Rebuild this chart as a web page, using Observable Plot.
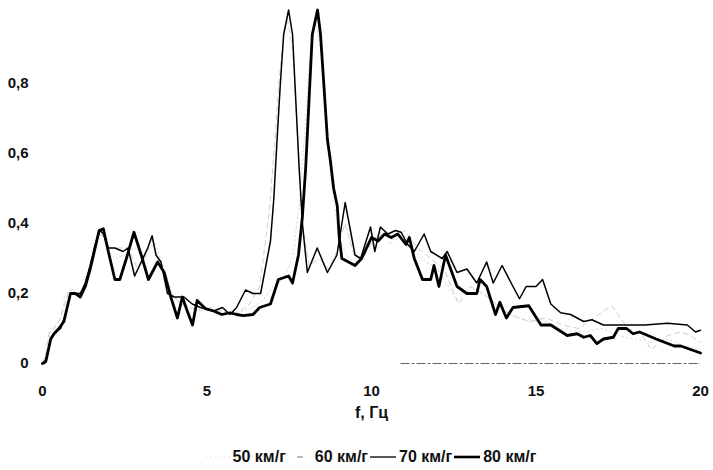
<!DOCTYPE html>
<html>
<head>
<meta charset="utf-8">
<script src="https://cdn.jsdelivr.net/npm/d3@7"></script>
<script src="https://cdn.jsdelivr.net/npm/@observablehq/plot@0.6"></script>
<style>
  html, body { margin: 0; padding: 0; background: #fff; }
  #chart { width: 713px; }
  .legend { width: 713px; box-sizing: border-box; padding-left: 29px; display: flex; justify-content: center; align-items: center;
    font-family: "Liberation Sans", Arial, sans-serif; font-weight: bold; font-size: 16px; color: #111; height: 30px; margin-top: 2px; }
  .legend .item { display: flex; align-items: center; margin: 0 1px; }
  .legend svg { margin-right: 3px; }
</style>
</head>
<body>
<div id="chart"></div>
<div class="legend" id="legend"></div>
<script>
// ---- data ----
const xTicks = [0, 5, 10, 15, 20];
const yTicks = [0, 0.2, 0.4, 0.6, 0.8];
const seriesNames = ["50 км/г", "60 км/г", "70 км/г", "80 км/г"];

const f50 = [0, 0.1, 0.25, 0.4, 0.55, 0.7, 0.85, 1.0, 1.2, 1.4, 1.6, 1.8, 2.0, 2.2, 2.5, 2.8, 3.1, 3.4, 3.7, 4.0, 4.3, 4.6, 4.9, 5.2, 5.5, 5.8, 6.1, 6.4, 6.7, 7.0, 7.3, 7.6, 7.8, 8.0, 8.15, 8.3, 8.45, 8.6, 8.8, 9.0, 9.3, 9.6, 9.9, 10.2, 10.4, 10.58, 10.8, 11.1, 11.5, 12.0, 12.6, 13.0, 13.5, 14.0, 14.5, 14.8, 15.3, 15.8, 16.4, 17.0, 17.5, 18.0, 18.5, 19.0, 19.5, 20];
const v50 = [0, 0.02, 0.1, 0.11, 0.13, 0.2, 0.21, 0.2, 0.21, 0.27, 0.33, 0.37, 0.32, 0.3, 0.31, 0.33, 0.3, 0.35, 0.27, 0.19, 0.17, 0.15, 0.16, 0.15, 0.15, 0.14, 0.15, 0.16, 0.18, 0.22, 0.24, 0.3, 0.45, 0.7, 0.9, 0.97, 0.9, 0.7, 0.5, 0.36, 0.3, 0.29, 0.35, 0.37, 0.38, 0.34, 0.37, 0.36, 0.3, 0.27, 0.18, 0.22, 0.19, 0.15, 0.13, 0.12, 0.12, 0.1, 0.09, 0.1, 0.08, 0.07, 0.06, 0.07, 0.05, 0.04];

const f60 = [0, 0.1, 0.2, 0.35, 0.5, 0.65, 0.8, 0.95, 1.1, 1.3, 1.5, 1.65, 1.8, 2.0, 2.3, 2.6, 2.9, 3.1, 3.33, 3.5, 3.7, 3.9, 4.2, 4.5, 4.8, 5.1, 5.4, 5.7, 6.0, 6.3, 6.6, 6.9, 7.05, 7.2, 7.35, 7.45, 7.6, 7.75, 7.9, 8.1, 8.4, 8.7, 8.9, 9.2, 9.5, 9.8, 10.1, 10.4, 10.7, 11.0, 11.4, 11.8, 12.2, 12.65, 13.0, 13.4, 13.8, 14.2, 14.8, 15.3, 15.8, 16.3, 16.9, 17.3, 17.8, 18.2, 18.5, 19.0, 19.4, 19.7, 20];
const v60 = [0, 0.03, 0.09, 0.1, 0.12, 0.16, 0.21, 0.21, 0.2, 0.22, 0.29, 0.35, 0.37, 0.33, 0.33, 0.33, 0.27, 0.3, 0.36, 0.3, 0.26, 0.2, 0.17, 0.16, 0.15, 0.16, 0.15, 0.14, 0.15, 0.17, 0.22, 0.44, 0.62, 0.82, 0.95, 0.98, 0.9, 0.65, 0.4, 0.28, 0.3, 0.27, 0.31, 0.4, 0.3, 0.31, 0.36, 0.37, 0.35, 0.38, 0.33, 0.3, 0.27, 0.17, 0.22, 0.2, 0.17, 0.14, 0.12, 0.13, 0.11, 0.1, 0.14, 0.165, 0.1, 0.085, 0.04, 0.08, 0.09, 0.08, 0.06];

const f70 = [0, 0.1, 0.25, 0.4, 0.55, 0.7, 0.85, 1.0, 1.15, 1.3, 1.45, 1.6, 1.75, 1.85, 2.0, 2.2, 2.45, 2.6, 2.8, 3.0, 3.2, 3.33, 3.45, 3.6, 3.8, 4.0, 4.3, 4.55, 4.8, 5.0, 5.2, 5.47, 5.7, 5.9, 6.17, 6.4, 6.63, 6.78, 6.93, 7.03, 7.13, 7.23, 7.33, 7.48, 7.6, 7.7, 7.8, 7.9, 8.05, 8.35, 8.66, 8.95, 9.2, 9.5, 9.67, 9.97, 10.1, 10.27, 10.5, 10.73, 10.9, 11.1, 11.3, 11.6, 11.8, 12.15, 12.3, 12.6, 12.9, 13.2, 13.5, 13.7, 13.97, 14.3, 14.5, 14.7, 15.0, 15.2, 15.45, 15.75, 16.05, 16.45, 16.7, 17.05, 17.5, 18.3, 19.0, 19.6, 19.85, 20];
const v70 = [0, 0.01, 0.07, 0.09, 0.1, 0.14, 0.2, 0.2, 0.2, 0.23, 0.28, 0.34, 0.38, 0.37, 0.33, 0.33, 0.32, 0.33, 0.25, 0.29, 0.33, 0.365, 0.31, 0.29, 0.2, 0.19, 0.19, 0.17, 0.16, 0.155, 0.15, 0.16, 0.14, 0.16, 0.21, 0.20, 0.20, 0.275, 0.35, 0.47, 0.64, 0.80, 0.94, 1.01, 0.94, 0.75, 0.56, 0.40, 0.26, 0.33, 0.26, 0.31, 0.46, 0.31, 0.30, 0.39, 0.32, 0.39, 0.37, 0.38, 0.375, 0.34, 0.32, 0.37, 0.32, 0.30, 0.32, 0.26, 0.27, 0.23, 0.29, 0.23, 0.28, 0.22, 0.185, 0.22, 0.22, 0.24, 0.17, 0.145, 0.14, 0.12, 0.125, 0.11, 0.11, 0.11, 0.115, 0.11, 0.09, 0.095];

const f80 = [0, 0.1, 0.25, 0.35, 0.5, 0.65, 0.85, 1.0, 1.15, 1.3, 1.45, 1.6, 1.72, 1.85, 2.0, 2.2, 2.35, 2.55, 2.78, 3.0, 3.22, 3.5, 3.7, 3.9, 4.1, 4.25, 4.4, 4.56, 4.7, 4.95, 5.2, 5.45, 5.7, 5.9, 6.1, 6.4, 6.6, 6.93, 7.17, 7.48, 7.6, 7.78, 7.9, 8.0, 8.1, 8.2, 8.36, 8.45, 8.55, 8.66, 8.75, 8.85, 8.96, 9.02, 9.1, 9.3, 9.5, 9.7, 10.0, 10.2, 10.4, 10.6, 10.8, 11.05, 11.15, 11.3, 11.55, 11.8, 11.9, 12.05, 12.25, 12.6, 12.9, 13.2, 13.3, 13.5, 13.77, 13.9, 14.1, 14.3, 14.78, 15.15, 15.45, 15.95, 16.25, 16.45, 16.65, 16.85, 17.05, 17.35, 17.5, 17.75, 17.95, 18.15, 18.65, 19.2, 19.4, 20];
const v80 = [0, 0.005, 0.07, 0.085, 0.1, 0.12, 0.2, 0.2, 0.19, 0.22, 0.27, 0.33, 0.38, 0.385, 0.32, 0.24, 0.24, 0.3, 0.375, 0.31, 0.24, 0.29, 0.26, 0.19, 0.13, 0.19, 0.15, 0.11, 0.18, 0.157, 0.15, 0.14, 0.145, 0.14, 0.137, 0.14, 0.16, 0.17, 0.24, 0.25, 0.23, 0.31, 0.42, 0.56, 0.75, 0.94, 1.01, 0.94, 0.80, 0.64, 0.58, 0.50, 0.45, 0.36, 0.30, 0.29, 0.28, 0.30, 0.36, 0.35, 0.37, 0.36, 0.37, 0.34, 0.36, 0.30, 0.24, 0.24, 0.28, 0.22, 0.31, 0.22, 0.20, 0.20, 0.24, 0.22, 0.14, 0.175, 0.13, 0.16, 0.165, 0.11, 0.11, 0.08, 0.085, 0.075, 0.08, 0.057, 0.07, 0.075, 0.10, 0.10, 0.085, 0.09, 0.07, 0.05, 0.05, 0.03];

// faint baseline segment visible along zero on the right part
const baseSegment = [10.9, 20];

// ---- styles ----
const styles = [
  {stroke: "#dcdcdc", strokeWidth: 1, strokeDasharray: "1.5,3"},
  {stroke: "#cfcfcf", strokeWidth: 1, strokeDasharray: "5,4"},
  {stroke: "#000", strokeWidth: 1.5},
  {stroke: "#000", strokeWidth: 2.8}
];
const fs = [f50, f60, f70, f80];
const vs = [v50, v60, v70, v80];
const tables = fs.map((f, k) => f.map((x, i) => ({f: x, v: vs[k][i], s: seriesNames[k]})));

const fmt = d => d === 0 ? "0" : String(d).replace(".", ",");

const chart = Plot.plot({
  width: 713,
  height: 440,
  marginLeft: 42,
  marginRight: 13,
  marginTop: 13,
  marginBottom: 77,
  style: {fontFamily: "'Liberation Sans', Arial, sans-serif", fontWeight: "bold", fontSize: "15px", background: "#fff", color: "#111"},
  x: {domain: [0, 20], ticks: xTicks, tickSize: 0, tickPadding: 22, label: null, tickFormat: fmt},
  y: {domain: [0, 1], ticks: yTicks, tickSize: 0, tickPadding: 14, label: null, tickFormat: fmt},
  marks: [
    Plot.ruleY([0], {x1: baseSegment[0], x2: baseSegment[1], stroke: "#666", strokeWidth: 1.2, strokeDasharray: "9,2,3,2"}),
    ...tables.map((t, k) => Plot.line(t, {x: "f", y: "v", ...styles[k], strokeLinejoin: "round", clip: false})),
    Plot.text(["f, Гц"], {frameAnchor: "bottom", dy: 54, fontSize: 16, fontWeight: "bold", fill: "#111"})
  ]
});
document.getElementById("chart").appendChild(chart);

// ---- legend ----
const legend = d3.select("#legend");
const swatchStyles = [
  {stroke: "#e4e4e4", w: 1, dash: "1.5,3", len: 24},
  {stroke: "#777", w: 1.2, dash: "0,9,6,20", len: 24},
  {stroke: "#111", w: 1.4, dash: null, len: 26},
  {stroke: "#000", w: 2.6, dash: null, len: 26}
];
seriesNames.forEach((name, k) => {
  const it = legend.append("div").attr("class", "item");
  const s = swatchStyles[k];
  const svg = it.append("svg").attr("width", s.len).attr("height", 10);
  svg.append("line").attr("x1", 0).attr("x2", s.len).attr("y1", 5).attr("y2", 5)
    .attr("stroke", s.stroke).attr("stroke-width", s.w).attr("stroke-dasharray", s.dash);
  it.append("span").text(name);
});
</script>
</body>
</html>
